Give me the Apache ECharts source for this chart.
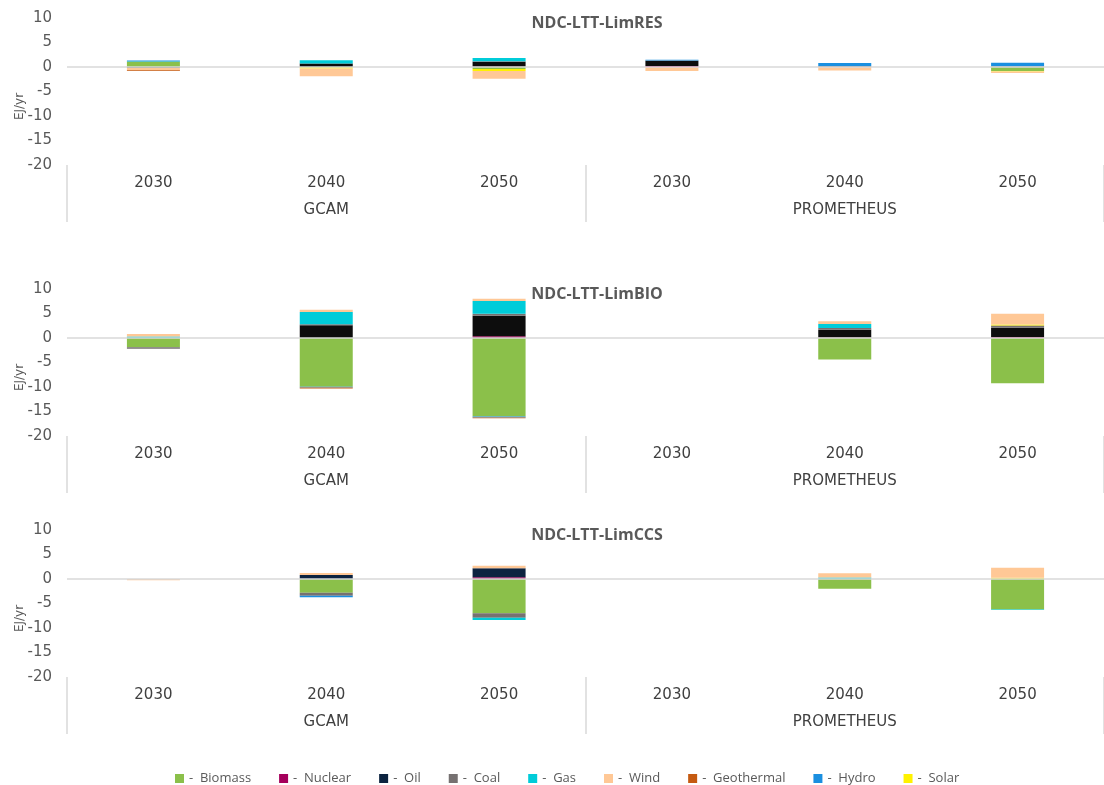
<!DOCTYPE html>
<html>
<head>
<meta charset="utf-8">
<script src="https://cdn.jsdelivr.net/npm/echarts@6/dist/echarts.min.js"></script>
<style>
  html, body { margin: 0; padding: 0; background: #fff; }
  #graph { width: 1104px; height: 785px; }
</style>
</head>
<body>
<div id="graph"></div>
<script>
// categories
const years = ['2030', '2040', '2050', '2030', '2040', '2050'];
const models = ['GCAM', 'PROMETHEUS'];
const panelTitles = ['NDC-LTT-LimRES', 'NDC-LTT-LimBIO', 'NDC-LTT-LimCCS'];
const fuels = ['Biomass', 'Nuclear', 'Oil', 'Coal', 'Gas', 'Wind', 'Geothermal', 'Hydro', 'Solar'];
// stacking order as seen in the bars
const stackOrder = ['Biomass', 'Nuclear', 'Oil', 'Coal', 'Gas', 'Solar', 'Wind', 'Hydro', 'Geothermal'];

// EJ/yr, order: GCAM 2030/2040/2050, PROMETHEUS 2030/2040/2050
const limRES = {
  Biomass:    [1.0, 0, -0.4, 0, 0, -0.8],
  Nuclear:    [0, 0, 0.05, 0.2, 0, 0],
  Oil:        [-0.15, 0.7, 1.0, 1.1, 0, 0],
  Coal:       [0.1, 0, 0.1, 0.05, 0.2, 0.15],
  Gas:        [0.1, 0.7, 0.7, 0, 0, 0],
  Solar:      [0, -0.3, -0.4, 0, 0, -0.1],
  Wind:       [-0.5, -1.6, -1.6, -0.8, -0.7, -0.3],
  Hydro:      [0.15, 0, 0, 0.15, 0.6, 0.7],
  Geothermal: [-0.15, 0, 0, 0, 0, 0]
};
const limBIO = {
  Biomass:    [-1.9, -9.95, -16.0, 0, -4.4, -9.25],
  Nuclear:    [0, 0, 0.35, 0, 0.1, 0.2],
  Oil:        [0, 2.6, 4.2, 0, 1.6, 1.9],
  Coal:       [-0.3, 0.2, 0.4, 0, 0.35, 0.45],
  Gas:        [0.3, 2.5, 2.6, 0, 0.8, 0],
  Solar:      [0, 0, 0, 0, 0, 0.2],
  Wind:       [0.5, 0.45, 0.45, 0, 0.55, 2.2],
  Hydro:      [0, -0.15, -0.2, 0, 0, 0],
  Geothermal: [0, -0.2, -0.2, 0, 0, 0]
};
const limCCS = {
  Biomass:    [0, -2.8, -7.0, 0, -2.0, -6.2],
  Nuclear:    [0, 0, 0.35, 0, 0, 0],
  Oil:        [0, 0.8, 1.85, 0, 0, 0],
  Coal:       [0, -0.6, -0.9, 0, 0, 0],
  Gas:        [0, 0, -0.45, 0, 0.3, -0.15],
  Solar:      [0, 0, 0, 0, 0, 0.25],
  Wind:       [-0.25, 0.45, 0.5, 0, 0.85, 2.05],
  Hydro:      [0, -0.3, 0, 0, 0, 0],
  Geothermal: [0, 0, 0, 0, 0, 0]
};
const panels = [limRES, limBIO, limCCS];

const colors = {
  Biomass: '#8BC04A',
  Nuclear: '#A5005C',
  Oil: '#0C2340',
  Coal: '#767171',
  Gas: '#00CCD9',
  Wind: '#FFC896',
  Geothermal: '#C55A11',
  Hydro: '#1A8FE0',
  Solar: '#FFF200'
};
// oil looks nearly black in the first two panels
const oilPanelColors = ['#0D0D0D', '#0D0D0D', '#0C2340'];

const gridTops = [18, 289, 530];
const gridHeight = 147;
const axisColor = '#d9d9d9';
const textGrey = '#595959';
const font = 'DejaVu Sans';

var myChart = echarts.init(document.getElementById('graph'));

const grid = [];
const xAxis = [];
const yAxis = [];
const title = [];
const series = [];

panels.forEach((panel, i) => {
  grid.push({ left: 67, width: 1042, top: gridTops[i], height: gridHeight });

  title.push({
    text: panelTitles[i],
    left: 592,
    top: gridTops[i] - 8,
    textAlign: 'center',
    textStyle: { fontFamily: 'Open Sans', fontSize: 16, fontWeight: 'bold', color: textGrey }
  });

  // year labels
  xAxis.push({
    gridIndex: i,
    type: 'category',
    data: years,
    position: 'bottom',
    axisLine: { show: false, onZero: false },
    axisTick: { show: false },
    axisLabel: { margin: 11, fontFamily: font, fontSize: 15, color: '#404040' }
  });
  // model group labels + separators
  xAxis.push({
    gridIndex: i,
    type: 'category',
    data: models,
    position: 'bottom',
    axisLine: { show: false, onZero: false },
    axisTick: { show: true, length: 57, lineStyle: { color: axisColor, width: 1.5 } },
    axisLabel: { margin: 38, fontFamily: font, fontSize: 15, color: '#404040' }
  });

  yAxis.push({
    gridIndex: i,
    type: 'value',
    min: -20,
    max: 10,
    interval: 5,
    name: 'EJ/yr',
    nameLocation: 'middle',
    nameRotate: 90,
    nameGap: 41,
    nameMoveOverlap: false,
    nameTextStyle: { fontFamily: font, fontSize: 12, color: textGrey, padding: [0, 30, 0, 0] },
    axisLine: { show: false },
    axisTick: { show: false },
    splitLine: { show: false },
    axisLabel: { margin: 15, fontFamily: font, fontSize: 15, color: textGrey }
  });

  stackOrder.forEach((fuel, k) => {
    const s = {
      name: fuel,
      type: 'bar',
      xAxisIndex: 2 * i,
      yAxisIndex: i,
      stack: 'p' + i,
      barWidth: 53,
      data: panel[fuel],
      itemStyle: { color: fuel === 'Oil' ? oilPanelColors[i] : colors[fuel] }
    };
    if (k === 0) {
      s.markLine = {
        silent: true,
        symbol: 'none',
        label: { show: false },
        lineStyle: { color: axisColor, width: 1.5, type: 'solid' },
        data: [{ yAxis: 0 }]
      };
    }
    series.push(s);
  });
});

const option = {
  backgroundColor: '#ffffff',
  animation: false,
  title: title,
  grid: grid,
  xAxis: xAxis,
  yAxis: yAxis,
  legend: {
    data: fuels.map(f => ({ name: f, itemStyle: { color: colors[f] } })),
    top: 767,
    left: 170,
    itemWidth: 9,
    itemHeight: 9,
    itemGap: 28,
    icon: 'rect',
    formatter: name => '-  ' + name,
    textStyle: { fontFamily: 'Open Sans', fontSize: 13, color: textGrey }
  },
  series: series
};

myChart.setOption(option);
</script>
</body>
</html>
